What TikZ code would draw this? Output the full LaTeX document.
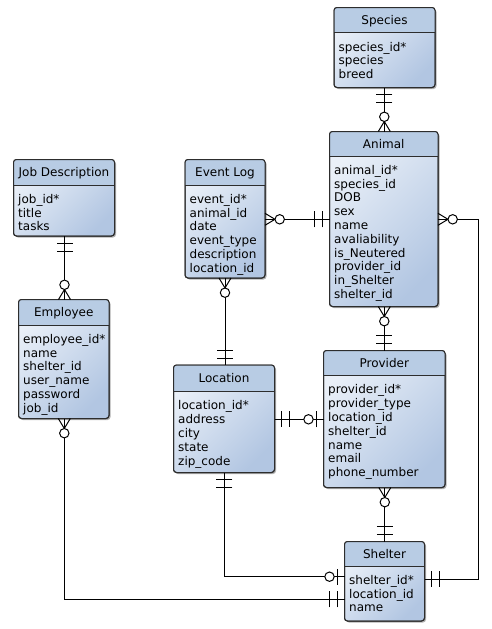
\documentclass[tikz,border=0pt]{standalone}
\usepackage{fontspec}
\setmainfont{DejaVu Sans}
\definecolor{headcol}{RGB}{184,204,228}
\definecolor{bodyL}{RGB}{234,240,248}
\definecolor{bodyR}{RGB}{178,198,226}
\definecolor{bordercol}{RGB}{45,45,45}
\tikzset{
  erline/.style={line width=1pt, black},
  entbox/.style={draw=bordercol, line width=1pt, rounded corners=3pt, inner sep=0pt, outer sep=0pt,
    anchor=north west, top color=bodyL, bottom color=bodyR, shading angle=45},
  enttitle/.style={font=\fontsize{12}{14}\selectfont, inner sep=0pt, anchor=base},
  entrow/.style={font=\fontsize{12}{14}\selectfont, inner sep=0pt, anchor=base west},
}
\newcommand\entity[8]{%
  \fill[black!30, rounded corners=3pt] (#2+1.5,#3+1.5) rectangle (#4+1.5,#5+1.5);
  \node[entbox, minimum width={(#4-#2)*1pt}, minimum height={(#5-#3)*1pt}] (#1) at (#2,#3) {};
  \begin{scope}
    \clip[rounded corners=3pt] (#2,#3) rectangle (#4,#5);
    \fill[headcol] (#2,#3) rectangle (#4,#6);
  \end{scope}
  \draw[draw=bordercol, line width=1pt, rounded corners=3pt] (#2,#3) rectangle (#4,#5);
  \draw[draw=bordercol, line width=1pt] (#2,#6) -- (#4,#6);
  \node[enttitle] at ({(#2+#4)/2},{(#3+#6)/2+4.5}) {#7};
  \foreach \r [count=\i from 0] in {#8} \node[entrow] at (#2+4.5,#6+18.3+13.8*\i) {\r};
}
\newcommand\erOne[2]{\begin{scope}[shift={(#1)},rotate=#2]
  \draw[erline] (7,-8)--(7,8) (15,-8)--(15,8);\end{scope}}
\newcommand\erManyOpt[2]{\begin{scope}[shift={(#1)},rotate=#2]
  \draw[erline] (0,6)--(10,0)--(0,-6);
  \draw[erline,fill=white] (14.7,0) circle[radius=4.7];\end{scope}}
\newcommand\erZeroOne[2]{\begin{scope}[shift={(#1)},rotate=#2]
  \draw[erline] (7,-8)--(7,8);
  \draw[erline,fill=white] (15,0) circle[radius=4.7];\end{scope}}
\begin{document}
\begin{tikzpicture}[x=1pt,y=-1pt]
\useasboundingbox[fill=white] (0,0) rectangle (491,629);
\entity{species}{334}{7.5}{435}{87.5}{32.7}{Species}{species\_id*,species,breed}
\entity{animal}{329.5}{131.5}{438}{306.5}{156}{Animal}{animal\_id*,species\_id,DOB,sex,name,avaliability,is\_Neutered,provider\_id,in\_Shelter,shelter\_id}
\entity{jobdesc}{13.5}{159.5}{114.5}{236}{185}{Job Description}{job\_id*,title,tasks}
\entity{eventlog}{185}{159.5}{265}{278}{185}{Event Log}{event\_id*,animal\_id,date,event\_type,description,location\_id}
\entity{employee}{18.5}{299.5}{109}{418.5}{325}{Employee}{employee\_id*,name,shelter\_id,user\_name,password,job\_id}
\entity{location}{173.5}{365}{274.5}{472.5}{391.5}{Location}{location\_id*,address,city,state,zip\_code}
\entity{provider}{323.5}{350.5}{445}{487.5}{375.5}{Provider}{provider\_id*,provider\_type,location\_id,shelter\_id,name,email,phone\_number}
\entity{shelter}{344.5}{541.5}{424.5}{621}{566}{Shelter}{shelter\_id*,location\_id,name}

\coordinate (vSA) at (384.3,0);
\coordinate (vPS) at (384.8,0);
\coordinate (vJE) at (64.5,0);
\coordinate (vEL) at (225,0);
\coordinate (hEA) at (0,219.3);
\coordinate (hLP) at (0,419.3);
\coordinate (kA1) at (478.3,219.3);
\coordinate (kA2) at (478.3,579.3);
\coordinate (kL) at (224.3,576.7);
\coordinate (kE) at (64.3,599.3);

\draw[erline] (species.south -| vSA) -- (animal.north -| vSA);
\draw[erline] (eventlog.east |- hEA) -- (animal.west |- hEA);
\draw[erline] (animal.east |- kA1) -- (kA1) -- (kA2) -- (shelter.east |- kA2);
\draw[erline] (animal.south -| vSA) -- (provider.north -| vSA);
\draw[erline] (jobdesc.south -| vJE) -- (employee.north -| vJE);
\draw[erline] (eventlog.south -| vEL) -- (location.north -| vEL);
\draw[erline] (location.east |- hLP) -- (provider.west |- hLP);
\draw[erline] (location.south -| kL) -- (kL) -- (shelter.west |- kL);
\draw[erline] (employee.south -| kE) -- (kE) -- (shelter.west |- kE);
\draw[erline] (provider.south -| vPS) -- (shelter.north -| vPS);

\erOne{species.south -| vSA}{-90}
\erManyOpt{animal.north -| vSA}{90}
\erManyOpt{eventlog.east |- hEA}{0}
\erOne{animal.west |- hEA}{180}
\erManyOpt{animal.east |- kA1}{0}
\erOne{shelter.east |- kA2}{0}
\erManyOpt{animal.south -| vSA}{-90}
\erOne{provider.north -| vSA}{90}
\erOne{jobdesc.south -| vJE}{-90}
\erManyOpt{employee.north -| vJE}{90}
\erManyOpt{eventlog.south -| vEL}{-90}
\erOne{location.north -| vEL}{90}
\erOne{location.east |- hLP}{0}
\erZeroOne{provider.west |- hLP}{180}
\erOne{location.south -| kL}{-90}
\erZeroOne{shelter.west |- kL}{180}
\erManyOpt{employee.south -| kE}{-90}
\erOne{shelter.west |- kE}{180}
\erManyOpt{provider.south -| vPS}{-90}
\erOne{shelter.north -| vPS}{90}
\end{tikzpicture}
\end{document}
